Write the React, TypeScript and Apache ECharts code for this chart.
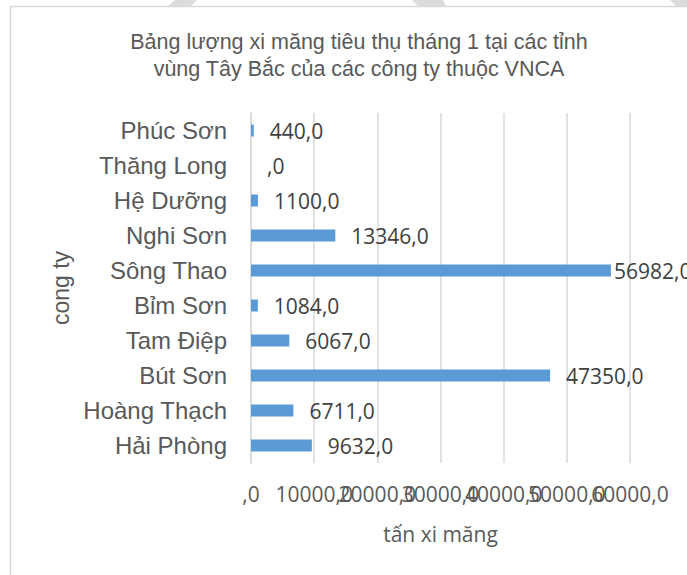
import React, { useEffect, useRef } from "react";
import * as echarts from "echarts";

const titleLines = [
  "Bảng lượng xi măng tiêu thụ tháng 1 tại các tỉnh",
  "vùng Tây Bắc của các công ty thuộc VNCA",
];
const categories = [
  "Hải Phòng",
  "Hoàng Thạch",
  "Bút Sơn",
  "Tam Điệp",
  "Bỉm Sơn",
  "Sông Thao",
  "Nghi Sơn",
  "Hệ Dưỡng",
  "Thăng Long",
  "Phúc Sơn",
];
const values = [9632, 6711, 47350, 6067, 1084, 56982, 13346, 1100, 0, 440];
const xAxisName = "tấn xi măng";
const yAxisName = "cong ty";
const xMin = 0;
const xMax = 60000;
const xInterval = 10000;

const fmt = (v: number) => (v === 0 ? ",0" : `${v},0`);

const labelStyle = {
  fontFamily: "Open Sans",
  fontSize: 21,
  color: "#595959",
  margin: 20,
  hideOverlap: false,
};

export default function App() {
  const ref = useRef<HTMLDivElement>(null);
  useEffect(() => {
    if (!ref.current) return;
    const chart = echarts.init(ref.current, null, { renderer: "svg" });
    const maxVal = Math.max(...values);
    chart.setOption({
      animation: false,
      backgroundColor: "#ffffff",
      title: {
        text: titleLines.join("\n"),
        left: 354,
        top: 23,
        textAlign: "center",
        textStyle: {
          fontFamily: "Liberation Sans",
          fontSize: 21.5,
          fontWeight: "normal",
          color: "#595959",
          lineHeight: 27,
        },
      },
      graphic: [
        {
          type: "rect",
          shape: { x: 10.5, y: 6.5, width: 720, height: 620 },
          style: { fill: "none", stroke: "#D9D9D9", lineWidth: 1.5 },
          silent: true,
        },
        {
          type: "polygon",
          shape: { points: [[175, 0], [197, 0], [191, 6], [168, 6]] },
          style: { fill: "#DCDCDC" },
          silent: true,
        },
        {
          type: "polygon",
          shape: { points: [[412, 0], [443, 0], [446, 6], [418, 6]] },
          style: { fill: "#DCDCDC" },
          silent: true,
        },
        {
          type: "polygon",
          shape: { points: [[670, 0], [687, 0], [687, 6], [676, 6]] },
          style: { fill: "#DCDCDC" },
          silent: true,
        },
      ],
      grid: {
        left: 251,
        right: 57,
        top: 113,
        bottom: 112,
        containLabel: false,
        outerBoundsMode: "none",
      },
      xAxis: [
        {
          type: "value",
          position: "bottom",
          min: xMin,
          max: xMax,
          interval: xInterval,
          name: xAxisName,
          nameLocation: "middle",
          nameGap: 60,
          nameTextStyle: {
            fontFamily: "Open Sans",
            fontSize: 21,
            color: "#595959",
          },
          axisLine: { show: false },
          axisTick: { show: false },
          axisLabel: {
            ...labelStyle,
            formatter: (v: number) => fmt(v),
            showMinLabel: true,
            showMaxLabel: false,
          },
          splitLine: { show: true, lineStyle: { color: "#D9D9D9", width: 1.5 } },
        },
        {
          type: "value",
          position: "bottom",
          offset: 0,
          min: xMin,
          max: xMax,
          interval: xInterval,
          axisLine: { show: false },
          axisTick: { show: false },
          splitLine: { show: false },
          axisLabel: {
            ...labelStyle,
            formatter: (v: number) => (v === xMax ? fmt(v) : ""),
            showMinLabel: false,
            showMaxLabel: true,
          },
        },
      ],
      yAxis: {
        type: "category",
        data: categories,
        name: yAxisName,
        nameLocation: "middle",
        nameGap: 176,
        nameRotate: 90,
        nameTextStyle: {
          fontFamily: "Liberation Sans",
          fontSize: 23,
          color: "#595959",
        },
        axisLine: { show: true, lineStyle: { color: "#D9D9D9", width: 1.5 } },
        axisTick: { show: false },
        axisLabel: {
          fontFamily: "Liberation Sans",
          fontSize: 24,
          color: "#595959",
          margin: 24,
          interval: 0,
        },
        splitLine: { show: false },
      },
      series: [
        {
          type: "bar",
          xAxisIndex: 0,
          data: values,
          barWidth: 12,
          itemStyle: { color: "#5B9BD5" },
          label: {
            show: true,
            position: "right",
            distance: 16,
            formatter: (p: any) => fmt(p.value),
            fontFamily: "Open Sans",
            fontSize: 21,
            color: "#404040",
          },
          labelLayout: (p: any) => {
            const v = values[p.dataIndex];
            if (v === maxVal) {
              return { dx: -13 };
            }
            return {};
          },
        },
      ],
    });
    return () => chart.dispose();
  }, []);
  return (
    <div
      ref={ref}
      style={{ position: "absolute", left: 0, top: 0, width: 687, height: 575 }}
    />
  );
}
